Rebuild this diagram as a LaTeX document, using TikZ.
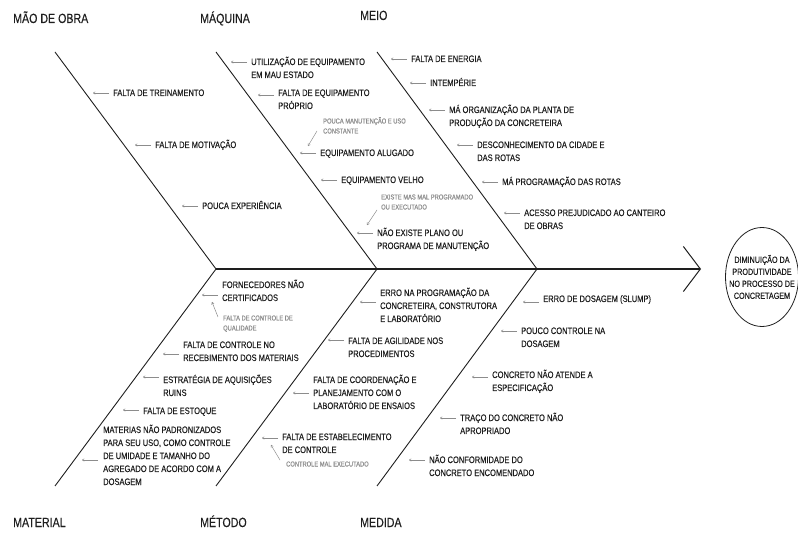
\documentclass[tikz,border=0pt]{standalone}
\usepackage{fontspec}
\setmainfont[FakeStretch=0.8,FakeBold=0.3]{Liberation Sans}
\usetikzlibrary{arrows.meta,shapes.geometric}
\definecolor{ink}{RGB}{30,30,30}
\definecolor{faded}{RGB}{140,140,140}

\begin{document}
\begin{tikzpicture}[
  x=1pt, y=-1pt,
  every node/.style={inner sep=0pt, text=ink},
  cat/.style={anchor=base west, font=\fontsize{13.3}{15}\selectfont},
  cause/.style={anchor=base west, align=left, font=\fontsize{9.4}{13}\selectfont},
  remark/.style={anchor=base west, align=left, text=faded, font=\fontsize{7.2}{10}\selectfont},
  bone/.style={line width=0.9pt, draw=ink},
  spine/.style={line width=1.6pt, draw=ink, -{Straight Barb[length=17pt,width=45pt,line width=1pt]}},
  tick/.style={draw=faded, line width=0.5pt, -{To[length=2.5pt,width=3pt]}},
  effect/.style={draw=ink, ellipse, line width=0.8pt, inner xsep=-11pt, minimum width=73pt,
    minimum height=99pt, align=center, font=\fontsize{9}{12}\selectfont}
]
\useasboundingbox (0,0) rectangle (798,534);

% spine and bones
\coordinate (sp0) at (216,269);
\coordinate (sp1) at (377,269);
\coordinate (sp2) at (537,269);
\coordinate (head) at (701,269);
\coordinate (mobra) at (55,52);
\coordinate (maq) at (216,52);
\coordinate (meio) at (377,52);
\coordinate (mat) at (55,486);
\coordinate (met) at (216,486);
\coordinate (med) at (377,486);

\draw[spine] (sp0) -- (head);
\draw[bone] (mobra) -- (sp0);
\draw[bone] (maq) -- (sp1);
\draw[bone] (meio) -- (sp2);
\draw[bone] (mat) -- (sp0);
\draw[bone] (met) -- (sp1);
\draw[bone] (med) -- (sp2);

\node[effect] (efeito) at (762,277) {DIMINUIÇÃO DA\\PRODUTIVIDADE\\NO PROCESSO DE\\CONCRETAGEM};

% categories
\node[cat] (cmo) at (13,23) {MÃO DE OBRA};
\node[cat] (cmq) at (200,23) {MÁQUINA};
\node[cat] (cme) at (360,20) {MEIO};
\node[cat] (cmt) at (13,527) {MATERIAL};
\node[cat] (cmd) at (200,527) {MÉTODO};
\node[cat] (cmm) at (360,527) {MEDIDA};

% mao de obra (base = last line)
\node[cause] (m1) at (113,96) {FALTA DE TREINAMENTO};
\node[cause] (m2) at (155,148) {FALTA DE MOTIVAÇÃO};
\node[cause] (m3) at (202,209) {POUCA EXPERIÊNCIA};
\draw[tick] ([shift={(-4,-3)}]m1.base west) -- ++(-16,0);
\draw[tick] ([shift={(-4,-3)}]m2.base west) -- ++(-16,0);
\draw[tick] ([shift={(-4,-3)}]m3.base west) -- ++(-16,0);

% maquina
\node[cause] (q1) at (251,78) {UTILIZAÇÃO DE EQUIPAMENTO\\EM MAU ESTADO};
\node[cause] (q2) at (278,109) {FALTA DE EQUIPAMENTO\\PRÓPRIO};
\node[remark] (qn1) at (323,133.5) {POUCA MANUTENÇÃO E USO\\CONSTANTE};
\node[cause] (q3) at (320,156) {EQUIPAMENTO ALUGADO};
\node[cause] (q4) at (341,183) {EQUIPAMENTO VELHO};
\node[remark] (qn2) at (381,209.5) {EXISTE MAS MAL PROGRAMADO\\OU EXECUTADO};
\node[cause] (q5) at (377,249) {NÃO EXISTE PLANO OU\\PROGRAMA DE MANUTENÇÃO};
\draw[tick] ([shift={(-4,-16)}]q1.base west) -- ++(-16,0);
\draw[tick] ([shift={(-4,-14)}]q2.base west) -- ++(-16,0);
\draw[tick] ([shift={(-4,-3)}]q3.base west) -- ++(-16,0);
\draw[tick] ([shift={(-4,-3)}]q4.base west) -- ++(-16,0);
\draw[tick] ([shift={(-4,-16)}]q5.base west) -- ++(-16,0);
\draw[tick] ([shift={(-6,-2.5)}]qn1.base west) -- ++(-9,15);
\draw[tick] ([shift={(-4,0.5)}]qn2.base west) -- ++(-10,15);

% meio
\node[cause] (e1) at (411,62) {FALTA DE ENERGIA};
\node[cause] (e2) at (430,86) {INTEMPÉRIE};
\node[cause] (e3) at (449,126) {MÁ ORGANIZAÇÃO DA PLANTA DE\\PRODUÇÃO DA CONCRETEIRA};
\node[cause] (e4) at (477,161) {DESCONHECIMENTO DA CIDADE E\\DAS ROTAS};
\node[cause] (e5) at (502,185) {MÁ PROGRAMAÇÃO DAS ROTAS};
\node[cause] (e6) at (524,229) {ACESSO PREJUDICADO AO CANTEIRO\\DE OBRAS};
\draw[tick] ([shift={(-4,-3)}]e1.base west) -- ++(-16,0);
\draw[tick] ([shift={(-4,-3)}]e2.base west) -- ++(-16,0);
\draw[tick] ([shift={(-4,-16)}]e3.base west) -- ++(-16,0);
\draw[tick] ([shift={(-4,-16)}]e4.base west) -- ++(-16,0);
\draw[tick] ([shift={(-4,-3)}]e5.base west) -- ++(-16,0);
\draw[tick] ([shift={(-4,-16)}]e6.base west) -- ++(-16,0);

% material
\node[cause] (t1) at (222,301) {FORNECEDORES NÃO\\CERTIFICADOS};
\node[remark] (tn1) at (223,330.5) {FALTA DE CONTROLE DE\\QUALIDADE};
\node[cause] (t2) at (183,361) {FALTA DE CONTROLE NO\\RECEBIMENTO DOS MATERIAIS};
\node[cause] (t3) at (163,396) {ESTRATÉGIA DE AQUISIÇÕES\\RUINS};
\node[cause] (t4) at (143,414) {FALTA DE ESTOQUE};
\node[cause] (t5) at (103,485) {MATERIAS NÃO PADRONIZADOS\\PARA SEU USO, COMO CONTROLE\\DE UMIDADE E TAMANHO DO\\AGREGADO DE ACORDO COM A\\DOSAGEM};
\draw[tick] ([shift={(-4,-6)}]t1.base west) -- ++(-16,0);
\draw[tick] ([shift={(-4,-7)}]t2.base west) -- ++(-16,0);
\draw[tick] ([shift={(-4,-19)}]t3.base west) -- ++(-16,0);
\draw[tick] ([shift={(-4,-4)}]t4.base west) -- ++(-16,0);
\draw[tick] ([shift={(-5,-25)}]t5.base west) -- ++(-16,0);
\draw[tick] ([shift={(-5,-13.5)}]tn1.base west) -- ++(-6,-15);

% metodo
\node[cause] (d1) at (380,322) {ERRO NA PROGRAMAÇÃO DA\\CONCRETEIRA, CONSTRUTORA\\E LABORATÓRIO};
\node[cause] (d2) at (348,357) {FALTA DE AGILIDADE NOS\\PROCEDIMENTOS};
\node[cause] (d3) at (313,409) {FALTA DE COORDENAÇÃO E\\PLANEJAMENTO COM O\\LABORATÓRIO DE ENSAIOS};
\node[cause] (d4) at (282,453) {FALTA DE ESTABELECIMENTO\\DE CONTROLE};
\node[remark] (dn1) at (286,466.5) {CONTROLE MAL EXECUTADO};
\draw[tick] ([shift={(-4,-20)}]d1.base west) -- ++(-16,0);
\draw[tick] ([shift={(-4,-17)}]d2.base west) -- ++(-16,0);
\draw[tick] ([shift={(-4,-16)}]d3.base west) -- ++(-16,0);
\draw[tick] ([shift={(-4,-15)}]d4.base west) -- ++(-16,0);
\draw[tick] ([shift={(-6,-6.5)}]dn1.base west) -- ++(-9,-15);

% medida
\node[cause] (s1) at (543,302) {ERRO DE DOSAGEM (SLUMP)};
\node[cause] (s2) at (521,347) {POUCO CONTROLE NA\\DOSAGEM};
\node[cause] (s3) at (492,391) {CONCRETO NÃO ATENDE A\\ESPECIFICAÇÃO};
\node[cause] (s4) at (460,434) {TRAÇO DO CONCRETO NÃO\\APROPRIADO};
\node[cause] (s5) at (429,476) {NÃO CONFORMIDADE DO\\CONCRETO ENCOMENDADO};
\draw[tick] ([shift={(-4,0)}]s1.base west) -- ++(-16,0);
\draw[tick] ([shift={(-4,-16)}]s2.base west) -- ++(-16,0);
\draw[tick] ([shift={(-4,-14)}]s3.base west) -- ++(-16,0);
\draw[tick] ([shift={(-4,-16)}]s4.base west) -- ++(-16,0);
\draw[tick] ([shift={(-4,-16)}]s5.base west) -- ++(-16,0);
\end{tikzpicture}
\end{document}
